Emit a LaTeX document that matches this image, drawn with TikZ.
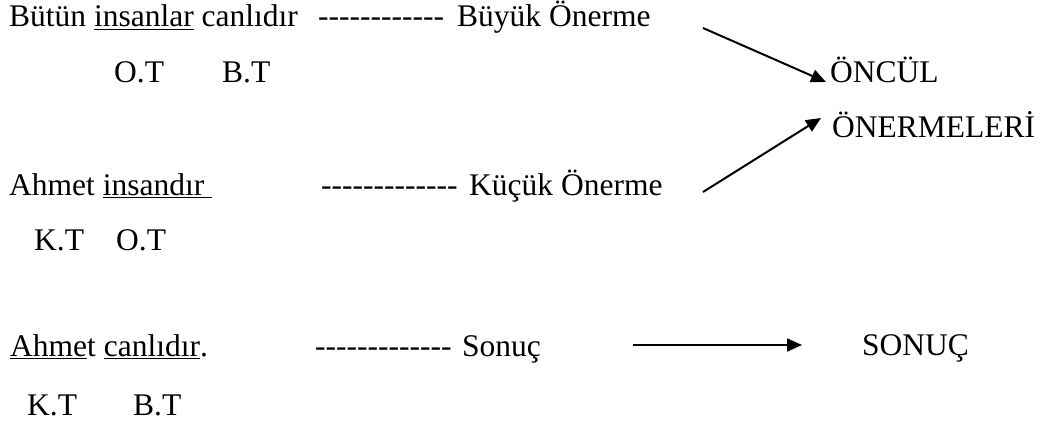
\documentclass[tikz,border=0pt]{standalone}
\usepackage{fontspec}
\setmainfont{Liberation Serif}
\usetikzlibrary{arrows.meta}
% a hyphen that never joins into an en/em dash
\newcommand\hy{-\kern0pt}
\newcommand\hyrow[1]{\foreach \k in {1,...,#1}{\hy}}
\tikzset{
  txt/.style={anchor=base west, inner sep=0pt, font=\fontsize{31.5}{38}\selectfont},
  arr/.style={line width=2pt, -{Triangle[length=15pt,width=13pt]}}
}
\begin{document}
\begin{tikzpicture}[x=1pt,y=-1pt]
\useasboundingbox[fill=white] (0,0) rectangle (1046,425);
% major premise
\node[txt] (p1) at (9,27) {Bütün \underline{insanlar} canlıdır};
\node[txt] (d1) at (318,27) {\hyrow{12}};
\node[txt] (l1) at (457,27) {Büyük Önerme};
\node[txt] (p1a) at (114,83) {O.T};
\node[txt] (p1b) at (222,83) {B.T};
% minor premise
\node[txt] (p2) at (9,195) {Ahmet \underline{insandır\ }};
\node[txt] (d2) at (321,195) {\hyrow{13}};
\node[txt] (l2) at (469,195) {Küçük Önerme};
\node[txt] (p2a) at (34,250) {K.T};
\node[txt] (p2b) at (116,250) {O.T};
% conclusion
\node[txt] (p3) at (10,356) {\underline{Ahme}t \underline{canlıdır}.};
\node[txt] (d3) at (315,356) {\hyrow{13}};
\node[txt] (l3) at (462,356) {Sonuç};
\node[txt] (p3a) at (27,415) {K.T};
\node[txt] (p3b) at (133,415) {B.T};
% right-hand labels
\node[txt] (oncul) at (830,83) {ÖNCÜL};
\node[txt] (onerme) at (832,137) {ÖNERMELERİ};
\node[txt] (sonuc) at (862,355) {SONUÇ};
% arrows
\coordinate (s1) at (703,28);
\coordinate (t1) at (826,82);
\coordinate (s2) at (703,192);
\coordinate (t2) at (821,118);
\coordinate (s3) at (633,345);
\coordinate (t3) at (802,345);
\draw[arr] (s1) -- (t1);
\draw[arr] (s2) -- (t2);
\draw[arr] (s3) -- (t3);
\end{tikzpicture}
\end{document}
